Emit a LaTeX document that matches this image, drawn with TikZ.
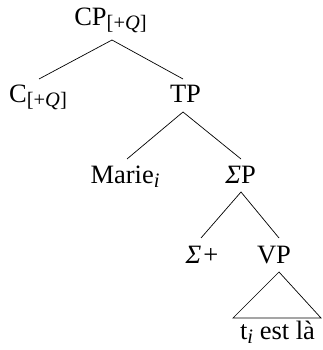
\documentclass[tikz,border=0pt]{standalone}
\usepackage{fontspec}
\setmainfont{Liberation Serif}
\newcommand\lsub[1]{\raisebox{-3.5pt}{\fontsize{20.5}{23}\selectfont #1}}
\begin{document}
\begin{tikzpicture}[x=1pt,y=1pt,
  lbl/.style={inner sep=0pt, anchor=base, font=\fontsize{26.5}{31}\selectfont},
  edge/.style={line width=0.7pt}]
\useasboundingbox (0,0) rectangle (322,350);
\node[lbl] (cp) at (110.5,324) {CP\lsub{[+\textit{Q}]}};
\node[lbl] (c) at (38,247) {C\lsub{[+\textit{Q}]}};
\node[lbl] (tp) at (185.5,247) {TP};
\node[lbl] (marie) at (125,166) {Marie\lsub{\textit{i}}};
\node[lbl] (sp) at (240.5,166) {\textit{Σ}P};
\node[lbl] (splus) at (202,86) {\textit{Σ}\kern2pt+};
\node[lbl] (vp) at (274,86) {VP};
\node[lbl] (t) at (277.5,10) {t\lsub{\textit{i}} est là};
\draw[edge] ([shift={(1,24)}]c.base) -- ([shift={(1.5,-14)}]cp.base) -- ([shift={(-2.5,24)}]tp.base);
\draw[edge] ([shift={(2,25)}]marie.base) -- ([shift={(-2.5,-9)}]tp.base) -- ([shift={(0.5,25)}]sp.base);
\draw[edge] ([shift={(-1,26)}]splus.base) -- ([shift={(0.5,-8)}]sp.base) -- ([shift={(5,26)}]vp.base);
\draw[edge] ([shift={(-44.5,22)}]t.base) -- ([shift={(5,-8)}]vp.base) -- ([shift={(43.5,22)}]t.base) -- cycle;
\end{tikzpicture}
\end{document}
